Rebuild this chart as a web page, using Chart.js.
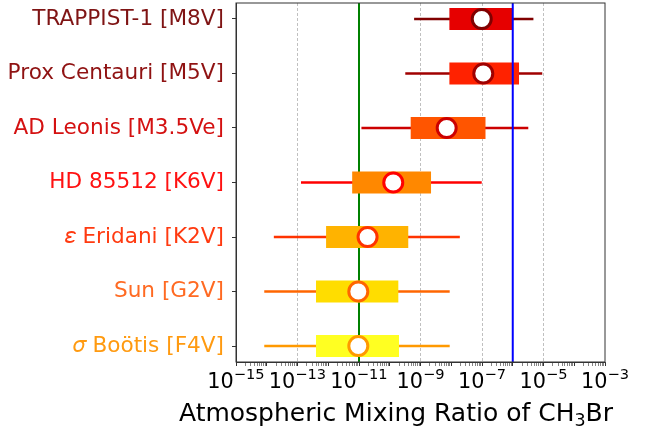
<!DOCTYPE html>
<html>

<head>
  <script src="https://cdn.jsdelivr.net/npm/chart.js"></script>
  <style>
    body { margin: 0; background: #fff; }
    #wrap { width: 662px; height: 432px; }
  </style>
</head>

<body>
  <div id="wrap"><canvas id="mixChart"></canvas></div>

  <script>
    // stars, top to bottom
    const stars = ["TRAPPIST-1 [M8V]", "Prox Centauri [M5V]", "AD Leonis [M3.5Ve]", "HD 85512 [K6V]",
      "𝜀 Eridani [K2V]", "Sun [G2V]", "𝜎 Boötis [F4V]"];
    const labelColors = ["#7f1414", "#8f1212", "#d41111", "#ff1111", "#ff3a10", "#ff6a22", "#ff9a10"];
    const boxColors = ["#e60000", "#ff2200", "#ff5500", "#ff8800", "#ffb300", "#ffdd00", "#ffff22"];
    const edgeColors = ["#800000", "#a00000", "#cc0000", "#ff0000", "#ff3300", "#ff6600", "#ff9900"];

    // mixing ratios of CH3Br
    const whiskerLow = [6.2e-10, 3.2e-10, 1.2e-11, 1.3e-13, 1.7e-14, 8.3e-15, 8.3e-15];
    const boxLow = [8.7e-9, 8.7e-9, 4.8e-10, 6.0e-12, 8.5e-13, 4.0e-13, 4.0e-13];
    const medians = [9.8e-8, 1.1e-7, 7.1e-9, 1.3e-10, 1.9e-11, 9.5e-12, 9.5e-12];
    const boxHigh = [9.8e-7, 1.6e-6, 1.3e-7, 2.2e-9, 4.0e-10, 1.9e-10, 2.0e-10];
    const whiskerHigh = [4.7e-6, 9.1e-6, 3.2e-6, 9.8e-8, 1.9e-8, 8.9e-9, 8.9e-9];

    // labelled decades on the x axis
    const xTickExps = [-15, -13, -11, -9, -7, -5, -3];

    const greenLine = 1e-11;
    const blueLine = 1e-6;

    const font = "'DejaVu Sans', sans-serif";

    function decade(value) {
      const e = Math.round(Math.log10(value));
      if (Math.abs(value - Math.pow(10, e)) / value > 1e-6) return null;
      return e;
    }

    const refLines = {
      id: "refLines",
      beforeDatasetsDraw(chart) {
        drawVLine(chart, greenLine, "#008000");
      },
      afterDatasetsDraw(chart) {
        drawVLine(chart, blueLine, "#0000ff");
      },
      afterDraw(chart) {
        const a = chart.chartArea;
        const ctx = chart.ctx;
        ctx.save();
        ctx.strokeStyle = "#333";
        ctx.lineWidth = 1;
        ctx.strokeRect(a.left, a.top, a.right - a.left, a.bottom - a.top);

        ctx.fillStyle = "#000";
        ctx.textBaseline = "alphabetic";
        ctx.textAlign = "left";

        // x tick labels, 10 with a raised exponent
        xTickExps.forEach(e => {
          const x = chart.scales.x.getPixelForValue(Math.pow(10, e));
          const exp = "\u2212" + String(-e);
          ctx.font = "20.8px " + font;
          const w1 = ctx.measureText("10").width;
          ctx.font = "14.6px " + font;
          const w2 = ctx.measureText(exp).width;
          const x0 = x - (w1 + w2) / 2;
          ctx.font = "20.8px " + font;
          ctx.fillText("10", x0, 388);
          ctx.font = "14.6px " + font;
          ctx.fillText(exp, x0 + w1, 379);
        });

        // axis title with subscript
        const parts = [
          { t: "Atmospheric Mixing Ratio of CH", size: 25, dy: 0 },
          { t: "3", size: 17.5, dy: 5 },
          { t: "Br", size: 25, dy: 0 }
        ];
        let total = 0;
        parts.forEach(p => {
          ctx.font = p.size + "px " + font;
          p.w = ctx.measureText(p.t).width;
          total += p.w;
        });
        let x = 396 - total / 2;
        parts.forEach(p => {
          ctx.font = p.size + "px " + font;
          ctx.fillText(p.t, x, 421 + p.dy);
          x += p.w;
        });
        ctx.restore();
      }
    };

    function drawVLine(chart, value, color) {
      const a = chart.chartArea;
      const x = chart.scales.x.getPixelForValue(value);
      const ctx = chart.ctx;
      ctx.save();
      ctx.strokeStyle = color;
      ctx.lineWidth = 2;
      ctx.beginPath();
      ctx.moveTo(x, a.top);
      ctx.lineTo(x, a.bottom);
      ctx.stroke();
      ctx.restore();
    }

    const ctx = document.getElementById("mixChart").getContext("2d");
    new Chart(ctx, {
      type: "bar",
      data: {
        datasets: [
          {
            type: "line",
            label: "median",
            data: stars.map((s, i) => ({ x: medians[i], y: i })),
            showLine: false,
            pointRadius: 9.5,
            pointHoverRadius: 9.5,
            pointBackgroundColor: "#ffffff",
            pointBorderColor: edgeColors,
            pointBorderWidth: 3,
            clip: false,
            order: 0
          },
          {
            label: "box",
            data: stars.map((s, i) => ({ x: [boxLow[i], boxHigh[i]], y: i })),
            backgroundColor: boxColors,
            barThickness: 22,
            inflateAmount: 0,
            grouped: false,
            order: 1
          },
          {
            label: "whisker",
            data: stars.map((s, i) => ({ x: [whiskerLow[i], whiskerHigh[i]], y: i })),
            backgroundColor: edgeColors,
            barThickness: 2.5,
            inflateAmount: 0,
            grouped: false,
            order: 2
          }
        ]
      },
      options: {
        indexAxis: "y",
        responsive: true,
        maintainAspectRatio: false,
        animation: false,
        layout: { autoPadding: false, padding: { left: 0, right: 57, top: 3, bottom: 0 } },
        plugins: {
          legend: { display: false },
          tooltip: { enabled: false }
        },
        scales: {
          x: {
            type: "logarithmic",
            min: 1e-15,
            max: 1e-3,
            afterBuildTicks(scale) {
              const ticks = [];
              for (let e = -15; e < -3; e++) {
                for (let m = 1; m <= 9; m++) {
                  ticks.push({ value: m * Math.pow(10, e) });
                }
              }
              ticks.push({ value: 1e-3 });
              scale.ticks = ticks;
            },
            afterFit(scale) {
              scale.height = 70;
            },
            ticks: {
              autoSkip: false,
              maxRotation: 0,
              minRotation: 0,
              callback() {
                return "";
              }
            },
            grid: {
              drawOnChartArea: true,
              tickLength: 4,
              color(c) {
                if (!c.tick) return "rgba(0,0,0,0)";
                const e = decade(c.tick.value);
                return (e !== null && e % 2 !== 0 && e > -15 && e < -3) ? "#b0b0b0" : "rgba(0,0,0,0)";
              },
              lineWidth: 0.8,
              tickColor: "#333",
              tickWidth(c) {
                return c.tick && decade(c.tick.value) !== null ? 1 : 0.6;
              }
            },
            border: { color: "#333", width: 1, dash: [3, 2] }
          },
          y: {
            type: "linear",
            reverse: true,
            offset: false,
            min: -0.293,
            max: 6.293,
            afterBuildTicks(scale) {
              scale.ticks = stars.map((s, i) => ({ value: i }));
            },
            afterFit(scale) {
              scale.width = 236;
              scale.paddingTop = 0;
              scale.paddingBottom = 0;
            },
            ticks: {
              padding: 8,
              font: { family: font, size: 21.6 },
              color(c) {
                return c.tick ? labelColors[c.tick.value] : "#000";
              },
              callback(value) {
                return stars[value];
              }
            },
            grid: {
              offset: false,
              drawOnChartArea: false,
              tickLength: 4,
              tickColor: "#333"
            },
            border: { color: "#333", width: 1 }
          }
        }
      },
      plugins: [refLines]
    });
  </script>
</body>

</html>
